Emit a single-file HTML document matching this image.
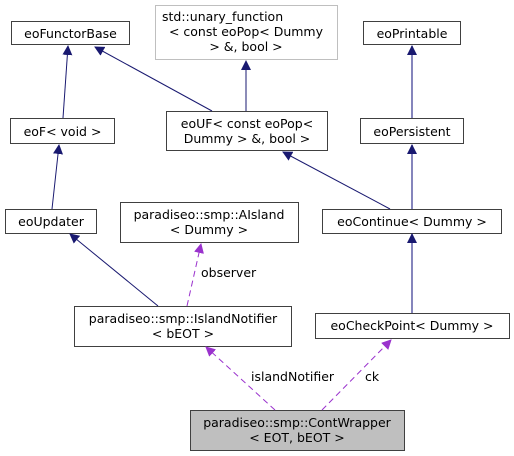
<!DOCTYPE html>
<html><head><style>body{margin:0;background:#fff}svg{display:block}text{font-family:"DejaVu Sans","Liberation Sans",sans-serif;font-size:12.5px;fill:#000}</style></head>
<body>
<svg width="514" height="456" viewBox="0 0 514 456">
<defs>
<marker id="a" markerWidth="10" markerHeight="10" refX="9" refY="5" orient="auto" markerUnits="userSpaceOnUse"><path d="M0,0 L10,5 L0,10 z" fill="#191970"/></marker>
<marker id="b" markerWidth="10" markerHeight="10" refX="9" refY="5" orient="auto" markerUnits="userSpaceOnUse"><path d="M0,0 L10,5 L0,10 z" fill="#191970"/></marker>
<marker id="p" markerWidth="10" markerHeight="10" refX="9" refY="5" orient="auto" markerUnits="userSpaceOnUse"><path d="M0,0 L10,5 L0,10 z" fill="#9a32cd"/></marker>
</defs>
<g fill="#fff" stroke="#404040" stroke-width="1">
<rect x="11.5" y="21.5" width="118" height="23"/>
<rect x="155.5" y="5.5" width="182" height="54" stroke="#bfbfbf"/>
<rect x="363.5" y="21.5" width="97" height="23"/>
<rect x="10.5" y="118.5" width="104" height="25"/>
<rect x="166.5" y="111.5" width="161" height="39"/>
<rect x="360.5" y="118.5" width="103" height="25"/>
<rect x="5.5" y="209.5" width="91" height="24"/>
<rect x="120.5" y="202.5" width="178" height="40"/>
<rect x="322.5" y="209.5" width="179" height="24"/>
<rect x="74.5" y="306.5" width="217" height="40"/>
<rect x="315.5" y="313.5" width="194" height="25"/>
<rect x="190.5" y="410.5" width="214" height="40" fill="#bfbfbf"/>
</g>
<g stroke="#191970" stroke-width="1" fill="none">
<line x1="63" y1="118" x2="68" y2="46" marker-end="url(#a)"/>
<line x1="212" y1="111" x2="95" y2="47" marker-end="url(#a)"/>
<line x1="246" y1="111" x2="246" y2="61" marker-end="url(#a)"/>
<line x1="52" y1="209" x2="59" y2="145" marker-end="url(#a)"/>
<line x1="390" y1="209" x2="283" y2="152" marker-end="url(#a)"/>
<line x1="158" y1="306" x2="70" y2="234" marker-end="url(#a)"/>
</g>
<g stroke="#5c5ca6" stroke-width="1.5" fill="none">
<line x1="412" y1="118" x2="412" y2="46" marker-end="url(#b)"/>
<line x1="412" y1="209" x2="412" y2="145" marker-end="url(#b)"/>
<line x1="412" y1="313" x2="412" y2="234" marker-end="url(#b)"/>
</g>
<g stroke="#9a32cd" stroke-width="1" stroke-dasharray="6,4" fill="none">
<line x1="187" y1="306" x2="201" y2="244" marker-end="url(#p)"/>
<line x1="275" y1="410" x2="206" y2="347" marker-end="url(#p)"/>
<line x1="322" y1="410" x2="391" y2="340" marker-end="url(#p)"/>
</g>
<g text-anchor="middle">
<text x="70.5" y="38">eoFunctorBase</text>
<text x="162" y="21" text-anchor="start">std::unary_function</text>
<text x="246" y="36">&lt; const eoPop&lt; Dummy</text>
<text x="246" y="51">&gt; &amp;, bool &gt;</text>
<text x="412" y="38">eoPrintable</text>
<text x="62.5" y="136">eoF&lt; void &gt;</text>
<text x="247" y="128">eoUF&lt; const eoPop&lt;</text>
<text x="247" y="143">Dummy &gt; &amp;, bool &gt;</text>
<text x="412" y="136">eoPersistent</text>
<text x="51" y="226">eoUpdater</text>
<text x="209" y="219">paradiseo::smp::AIsland</text>
<text x="209" y="234">&lt; Dummy &gt;</text>
<text x="412" y="226">eoContinue&lt; Dummy &gt;</text>
<text x="183" y="323">paradiseo::smp::IslandNotifier</text>
<text x="183" y="338">&lt; bEOT &gt;</text>
<text x="412" y="330">eoCheckPoint&lt; Dummy &gt;</text>
<text x="297" y="427">paradiseo::smp::ContWrapper</text>
<text x="297" y="442">&lt; EOT, bEOT &gt;</text>
</g>
<text x="201" y="277">observer</text>
<text x="251" y="381">islandNotifier</text>
<text x="365" y="381">ck</text>
</svg>
</body></html>
